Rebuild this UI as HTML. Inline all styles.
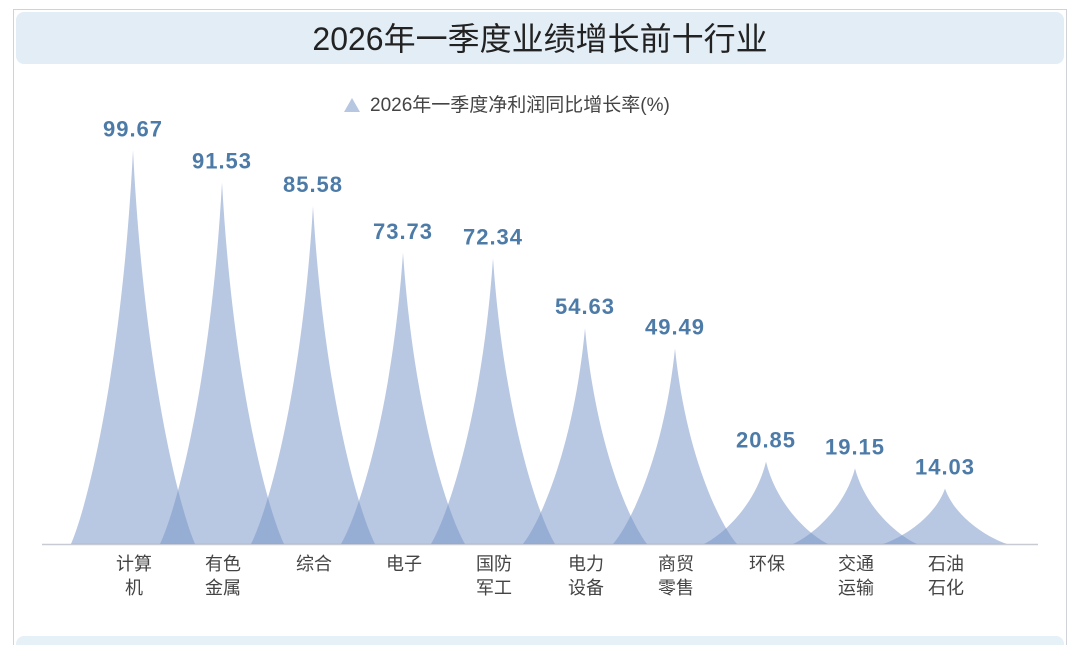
<!DOCTYPE html>
<html><head><meta charset="utf-8"><style>
body{margin:0;width:1080px;height:645px;background:#fff;overflow:hidden;font-family:"Liberation Sans","Noto Sans CJK SC",sans-serif}
</style></head><body>
<svg width="1080" height="645" xmlns="http://www.w3.org/2000/svg" style="position:absolute;left:0;top:0">
<rect x="13.5" y="9.5" width="1053" height="650" fill="#fff" stroke="#cfd3d8"/>
<rect x="16" y="12" width="1048" height="52" rx="8" fill="#e2edf6"/>
<rect x="16" y="636" width="1048" height="20" rx="8" fill="#e6f0f7"/>
<text x="540" y="50" text-anchor="middle" font-size="32" fill="#222" font-family="Liberation Sans, Noto Sans CJK SC, sans-serif">2026年一季度业绩增长前十行业</text>
<polygon points="344,112 352,98 360,112" fill="#b7c7e1"/>
<text x="370" y="111" font-size="19" fill="#444" font-family="Liberation Sans, Noto Sans CJK SC, sans-serif">2026年一季度净利润同比增长率(%)</text>
<line x1="42" y1="544.5" x2="1038" y2="544.5" stroke="#c8ccd2" stroke-width="1.5"/>
<g fill="rgb(120,150,200)" fill-opacity="0.53" id="g"></g>
<g font-family="Liberation Sans, Noto Sans CJK SC, sans-serif" id="t"></g>
</svg>
<script>
var d=[[133,99.67,"计算","机"],[222,91.53,"有色","金属"],[313,85.58,"综合",""],[403,73.73,"电子",""],[493,72.34,"国防","军工"],[585,54.63,"电力","设备"],[675,49.49,"商贸","零售"],[766,20.85,"环保",""],[855,19.15,"交通","运输"],[945,14.03,"石油","石化"]];
var b=544,s=3.95,g=document.getElementById('g'),t=document.getElementById('t'),h1='',h2='';
d.forEach(function(e){var c=e[0],h=e[1]*s,top=b-h;
function P(dx,fy){return (c+dx)+','+(b-fy*h);}
h1+='<path d="M'+P(-62,0)+' C'+P(-45,0.1)+' '+P(-11,0.45)+' '+P(0,1)+' C'+P(11,0.45)+' '+P(45,0.1)+' '+P(62,0)+' Z"/>';
h2+='<text x="'+c+'" y="'+(top-14)+'" text-anchor="middle" font-size="22" font-weight="bold" letter-spacing="1" fill="#4d7ba8">'+e[1].toFixed(2)+'</text>';
h2+='<text x="'+(c+1)+'" y="570" text-anchor="middle" font-size="18" fill="#444">'+e[2]+'</text>';
if(e[3])h2+='<text x="'+(c+1)+'" y="594" text-anchor="middle" font-size="18" fill="#444">'+e[3]+'</text>';});
g.innerHTML=h1;t.innerHTML=h2;
</script>
</body></html>
